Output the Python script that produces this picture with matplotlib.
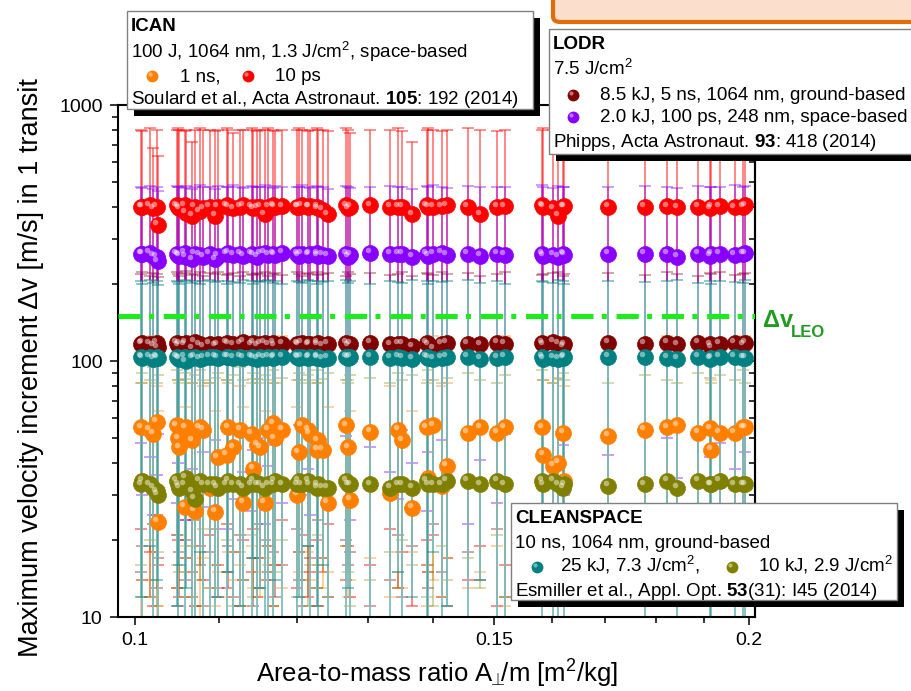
import numpy as np
import matplotlib.pyplot as plt
from matplotlib.patches import Rectangle, FancyBboxPatch
from matplotlib.lines import Line2D
from matplotlib.transforms import offset_copy
from matplotlib.ticker import FixedLocator, NullFormatter, FuncFormatter, LogLocator

plt.rcParams['font.family'] = ['Liberation Sans', 'DejaVu Sans']
plt.rcParams['mathtext.fontset'] = 'custom'
plt.rcParams['mathtext.rm'] = 'Liberation Sans'
plt.rcParams['mathtext.it'] = 'Liberation Sans:italic'
plt.rcParams['mathtext.bf'] = 'Liberation Sans:bold'

# area-to-mass ratio of each debris object [m^2/kg]
obj_x = [0.1007, 0.1008, 0.1017, 0.1021, 0.1025, 0.1026, 0.1048, 0.1050, 0.1051, 0.1058, 0.1059, 0.1067, 0.1070, 0.1076, 0.1080,
         0.1088, 0.1095, 0.1098, 0.1109, 0.1111, 0.1117, 0.1126, 0.1130, 0.1141, 0.1143, 0.1148, 0.1152, 0.1158, 0.1162, 0.1169,
         0.1171, 0.1181, 0.1201, 0.1203, 0.1207, 0.1216, 0.1218, 0.1228, 0.1229, 0.1236, 0.1243, 0.1269, 0.1272, 0.1275, 0.1304,
         0.1334, 0.1346, 0.1352, 0.1367, 0.1390, 0.1392, 0.1400, 0.1414, 0.1422, 0.1456, 0.1476, 0.1505, 0.1518, 0.1583, 0.1585,
         0.1603, 0.1612, 0.1621, 0.1623, 0.1706, 0.1778, 0.1823, 0.1844, 0.1888, 0.1914, 0.1916, 0.1935, 0.1968, 0.1986, 0.1991]

# ICAN 10 ps
red_v = [400, 400, 405, 395, 400, 340, 405, 400, 395, 405, 380, 370, 400, 385, 395,
         400, 370, 400, 405, 400, 395, 400, 405, 400, 395, 398, 400, 375, 400, 405,
         400, 402, 400, 400, 405, 400, 402, 400, 395, 390, 375, 405, 395, 400, 405,
         400, 400, 400, 375, 405, 400, 400, 402, 405, 400, 375, 400, 402, 405, 400,
         395, 370, 400, 402, 400, 400, 402, 398, 400, 395, 400, 402, 398, 400, 405]
red_hi = [800, 790, 810, 680, 800, 630, 800, 810, 800, 790, 800, 715, 800, 810, 800,
          800, 790, 800, 810, 800, 780, 800, 800, 810, 800, 790, 800, 800, 810, 800,
          790, 800, 800, 810, 800, 790, 800, 810, 800, 800, 790, 810, 800, 780, 800,
          800, 810, 790, 720, 800, 810, 800, 790, 800, 810, 800, 790, 800, 800, 810,
          800, 790, 800, 810, 800, 790, 800, 800, 810, 800, 790, 800, 810, 800, 800]
red_lo = [22, 14, 18, 11, 25, 16, 13, 20, 12, 17, 24, 15, 11, 19, 14,
          21, 12, 16, 23, 13, 18, 11, 20, 15, 22, 12, 17, 14, 19, 11,
          16, 24, 13, 18, 21, 12, 15, 20, 11, 17, 23, 14, 19, 12, 16,
          22, 13, 18, 11, 20, 15, 21, 12, 17, 14, 19, 11, 16, 24, 13,
          18, 21, 12, 15, 20, 11, 17, 23, 14, 19, 12, 16, 22, 13, 18]

# LODR space-based 100 ps
pur_v = [262, 262, 265, 258, 255, 245, 262, 260, 258, 265, 255, 250, 262, 260, 255,
         262, 250, 258, 262, 265, 260, 262, 258, 262, 260, 255, 262, 265, 260, 262,
         260, 265, 262, 258, 262, 260, 262, 264, 258, 260, 258, 262, 255, 260, 265,
         262, 262, 262, 255, 262, 258, 262, 265, 260, 262, 258, 262, 260, 262, 258,
         260, 255, 262, 260, 262, 262, 262, 255, 262, 258, 262, 262, 260, 262, 264]
pur_hi = [480, 475, 482, 470, 480, 460, 482, 478, 480, 475, 482, 470, 480, 485, 478,
          480, 470, 482, 480, 478, 485, 480, 475, 482, 480, 478, 480, 485, 480, 475,
          482, 480, 478, 480, 485, 480, 475, 482, 480, 478, 470, 482, 480, 475, 480,
          482, 480, 478, 470, 482, 480, 485, 480, 475, 482, 480, 478, 480, 485, 480,
          475, 482, 480, 478, 480, 482, 480, 475, 482, 480, 478, 480, 485, 480, 482]
pur_lo = [48, 30, 42, 25, 36, 52, 28, 40, 33, 46, 24, 38, 55, 31, 44,
          27, 49, 35, 22, 41, 29, 53, 37, 26, 45, 32, 50, 23, 39, 47,
          34, 28, 43, 56, 30, 38, 25, 48, 35, 42, 27, 51, 33, 24, 46,
          37, 29, 54, 40, 26, 44, 31, 49, 36, 23, 41, 28, 52, 34, 45,
          25, 39, 47, 30, 43, 27, 50, 35, 22, 42, 32, 48, 38, 26, 44]

# LODR ground-based 5 ns
dred_v = [117, 118, 117, 115, 118, 113, 118, 115, 117, 116, 118, 112, 119, 116, 114,
          117, 115, 116, 118, 117, 116, 117, 119, 116, 118, 115, 117, 118, 116, 118,
          115, 117, 117, 116, 118, 116, 117, 116, 118, 115, 117, 118, 115, 117, 118,
          116, 117, 117, 114, 118, 116, 112, 117, 118, 117, 116, 118, 117, 118, 116,
          119, 117, 114, 116, 118, 117, 118, 116, 118, 116, 113, 117, 118, 116, 118]
dred_hi = [218, 222, 215, 220, 218, 212, 222, 218, 215, 220, 224, 216, 218, 222, 215,
           220, 218, 222, 216, 218, 220, 215, 222, 218, 216, 220, 218, 222, 215, 218,
           220, 216, 222, 218, 215, 220, 218, 222, 216, 218, 220, 215, 222, 218, 220,
           216, 218, 222, 215, 220, 218, 216, 222, 218, 220, 215, 218, 222, 216, 218,
           220, 222, 215, 218, 220, 216, 222, 218, 215, 220, 218, 222, 216, 218, 220]
dred_lo = [15, 19, 12, 23, 13, 17, 21, 11, 18, 14, 20, 12, 24, 16, 11,
           18, 22, 13, 15, 19, 12, 21, 14, 17, 11, 23, 13, 20, 15, 18,
           12, 16, 22, 14, 11, 19, 17, 13, 24, 15, 12, 20, 16, 18, 11,
           14, 21, 12, 19, 16, 13, 23, 15, 11, 18, 14, 22, 12, 17, 20,
           13, 15, 19, 11, 24, 16, 12, 18, 21, 14, 17, 11, 15, 20, 13]

# CLEANSPACE 25 kJ
teal_v = [104, 103, 104, 102, 104, 103, 104, 103, 102, 104, 100, 103, 104, 102, 103,
          104, 104, 103, 104, 104, 103, 104, 103, 104, 103, 102, 104, 103, 104, 103,
          104, 104, 104, 103, 104, 103, 104, 103, 104, 102, 103, 104, 103, 104, 104,
          103, 104, 103, 102, 104, 103, 102, 103, 104, 104, 102, 103, 104, 104, 102,
          103, 102, 103, 104, 104, 104, 103, 102, 104, 102, 103, 104, 104, 103, 103]
teal_hi = [205, 200, 208, 202, 205, 198, 206, 203, 200, 208, 205, 202, 206, 200, 205,
           208, 203, 205, 200, 206, 204, 202, 208, 205, 200, 206, 203, 205, 208, 202,
           205, 200, 206, 204, 202, 208, 205, 200, 206, 203, 205, 208, 202, 205, 200,
           206, 204, 202, 208, 205, 200, 206, 203, 205, 208, 202, 205, 200, 206, 204,
           202, 208, 205, 200, 206, 203, 205, 208, 202, 205, 200, 206, 204, 202, 208]
teal_lo = [12, 8, 19, 9, 14, 8, 11, 9, 16, 8, 13, 9, 8, 18, 10,
           9, 8, 12, 9, 15, 8, 11, 9, 8, 17, 9, 13, 8, 10, 9,
           14, 8, 9, 12, 8, 19, 9, 11, 8, 16, 9, 8, 13, 9, 10,
           8, 15, 9, 12, 8, 9, 18, 8, 11, 9, 14, 8, 10, 9, 13,
           8, 9, 16, 8, 12, 9, 11, 8, 15, 9, 8, 13, 9, 10, 8]

# ICAN 1 ns
org_v = [55, 34, 54, 52, 58, 23.6, 56, 50, 46, 27, 55, 49, 26, 55, 54,
         32, 25.8, 42, 43, 55, 46, 54, 28, 52, 38, 47, 46, 28, 54, 57,
         50, 54, 30, 44, 56, 54, 52, 45, 49, 45, 28, 56, 46, 28.7, 53,
         30.6, 54, 49, 26.7, 55, 35, 56, 32.5, 39, 52.5, 55, 52.5, 55, 55, 43,
         39, 40, 52.5, 34, 51, 54, 55, 56, 52.5, 54.5, 45, 52.5, 52.5, 55, 55]
org_hi = [120, 82, 118, 125, 80, 64, 122, 84, 118, 66, 120, 82, 125, 118, 80,
          82, 64, 120, 84, 122, 118, 80, 66, 120, 85, 118, 122, 64, 120, 82,
          118, 125, 66, 84, 120, 118, 122, 82, 120, 118, 66, 122, 84, 64, 120,
          80, 118, 122, 64, 120, 84, 125, 80, 82, 120, 122, 118, 125, 120, 84,
          82, 85, 122, 80, 118, 120, 125, 118, 122, 120, 84, 118, 122, 120, 125]
org_lo = [9, 14, 12, 18, 8, 11, 16, 8, 13, 15, 19, 12, 9, 8, 17,
          13, 11, 15, 12, 18, 14, 16, 11, 19, 13, 15, 12, 17, 14, 11,
          16, 13, 8, 15, 12, 18, 14, 11, 16, 13, 15, 19, 12, 14, 17,
          12, 15, 13, 18, 11, 16, 14, 12, 17, 13, 15, 19, 11, 14, 16,
          13, 18, 12, 15, 14, 11, 17, 13, 16, 12, 15, 18, 14, 11, 13]

# CLEANSPACE 10 kJ
olv_v = [33, 34, 33, 32, 31, 30, 34, 33, 32, 33, 35, 31, 29, 34, 33,
         33, 33, 32, 33, 34, 33, 33, 32, 33, 34, 33, 33, 32, 33, 33,
         34, 33, 33, 34, 33, 34, 33, 32, 33, 32, 32, 34, 33, 33, 33,
         32, 33, 33, 32, 34, 33, 33, 33, 34, 34, 33, 34, 33, 34, 33,
         34, 33, 32, 33, 32.6, 33, 34, 32, 34, 33, 33, 34, 33, 33, 33]
olv_hi = [82, 90, 84, 95, 82, 88, 92, 84, 82, 90, 85, 82, 88, 92, 84,
          82, 86, 90, 84, 82, 88, 95, 84, 82, 90, 85, 82, 88, 84, 92,
          82, 86, 84, 90, 82, 88, 84, 92, 82, 85, 90, 84, 82, 88, 86,
          82, 90, 84, 88, 82, 92, 84, 82, 86, 90, 84, 82, 88, 92, 84,
          82, 86, 90, 84, 82, 88, 84, 82, 90, 86, 82, 88, 84, 92, 82]
olv_lo = [16, 12, 20, 14, 11, 18, 13, 21, 15, 12, 17, 19, 11, 14, 22,
          13, 16, 12, 20, 15, 11, 18, 14, 21, 12, 17, 13, 19, 16, 11,
          15, 20, 12, 18, 14, 11, 16, 13, 21, 17, 12, 19, 15, 11, 14,
          18, 13, 20, 16, 12, 15, 11, 19, 14, 17, 13, 21, 12, 16, 18,
          11, 15, 20, 13, 17, 12, 19, 14, 11, 16, 18, 13, 21, 15, 12]

dv_leo = 150

C_RED, C_ORG = '#ff0000', '#ff8000'
C_DRED, C_PUR = '#800000', '#8800ff'
C_TEAL, C_OLV = '#008080', '#808000'

W, H = 911, 691
fig = plt.figure(figsize=(W / 100, H / 100), dpi=100)
fig.patch.set_facecolor('white')
ax = fig.add_axes([118 / W, 1 - 617 / H, (755 - 118) / W, (617 - 105) / H])

x = np.array(obj_x)
series = [
    (red_v, red_lo, red_hi, C_RED, 0.55),
    (dred_v, dred_lo, dred_hi, C_DRED, 0.45),
    (pur_v, pur_lo, pur_hi, C_PUR, 0.5),
    (org_v, org_lo, org_hi, C_ORG, 0.45),
    (olv_v, olv_lo, olv_hi, C_OLV, 0.4),
]
for v, lo, hi, c, a in series:
    v, lo, hi = np.array(v, float), np.array(lo, float), np.array(hi, float)
    ax.errorbar(x, v, yerr=[v - lo, hi - v], fmt='none', ecolor=c, alpha=a,
                elinewidth=1.2, capsize=4, capthick=1.1, zorder=2)

# teal bars sit on top of the others, so blank the lines underneath first
ax.vlines(x, teal_lo, teal_hi, color='white', lw=1.2, zorder=2)
tv = np.array(teal_v, float)
ax.errorbar(x, tv, yerr=[tv - np.array(teal_lo), np.array(teal_hi) - tv], fmt='none',
            ecolor=C_TEAL, alpha=0.55, elinewidth=1.2, capsize=4, capthick=1.1, zorder=2)

hl = offset_copy(ax.transData, fig=fig, x=-2.5, y=2.5, units='dots')
for v, c in [(red_v, C_RED), (pur_v, C_PUR), (dred_v, C_DRED), (teal_v, C_TEAL),
             (org_v, C_ORG), (olv_v, C_OLV)]:
    ax.plot(x, v, 'o', ms=11.5, color=c, mec=c, mew=0.5, zorder=4)
    ax.plot(x, v, 'o', ms=4, color='white', alpha=0.45, mew=0, zorder=4, transform=hl)

lw_leo = 3.6
ax.axhline(dv_leo, color='#19ee19', lw=lw_leo,
           dashes=[16 / lw_leo, 6 / lw_leo, 3.6 / lw_leo, 7 / lw_leo], zorder=5)

ax.set_xscale('log')
ax.set_yscale('log')
ax.set_xlim(0.0981, 0.2013)
ax.set_ylim(10, 1000)
ax.xaxis.set_major_locator(FixedLocator([0.1, 0.15, 0.2]))
ax.xaxis.set_major_formatter(FuncFormatter(lambda v, p: f'{v:g}'))
ax.xaxis.set_minor_locator(FixedLocator([0.11, 0.12, 0.13, 0.14, 0.16, 0.17, 0.18, 0.19]))
ax.xaxis.set_minor_formatter(NullFormatter())
ax.yaxis.set_major_locator(FixedLocator([10, 100, 1000]))
ax.yaxis.set_major_formatter(FuncFormatter(lambda v, p: f'{v:g}'))
ax.yaxis.set_minor_locator(LogLocator(base=10, subs=np.arange(2, 10)))
ax.yaxis.set_minor_formatter(NullFormatter())
ax.tick_params(which='both', direction='out', width=1.1, labelsize=14, top=False, right=False)
ax.tick_params(which='major', length=6, pad=5)
ax.tick_params(which='minor', length=4)
for s in ax.spines.values():
    s.set_linewidth(1.5)

sec = ax.secondary_yaxis('right')
sec.yaxis.set_major_locator(FixedLocator([10, 100, 1000]))
sec.yaxis.set_minor_locator(LogLocator(base=10, subs=np.arange(2, 10)))
sec.yaxis.set_major_formatter(NullFormatter())
sec.yaxis.set_minor_formatter(NullFormatter())
sec.tick_params(which='both', direction='in', width=1.1)
sec.tick_params(which='major', length=6)
sec.tick_params(which='minor', length=4)
for s in sec.spines.values():
    s.set_linewidth(1.5)

fig.text(31 / W, 1 - 368 / H, 'Maximum velocity increment Δv [m/s] in 1 transit',
         rotation=90, ha='center', va='center', fontsize=19.5)
fig.text(437 / W, 1 - 674 / H, r'Area-to-mass ratio A$_{\!\!\bot}\!\!$/m [m$^2$/kg]',
         ha='center', va='center', fontsize=18.5)

fig.text(763 / W, 1 - 327 / H, 'Δv', fontsize=17, fontweight='bold', color='#1f9c1f')
fig.text(791 / W, 1 - 337 / H, 'LEO', fontsize=12, fontweight='bold', color='#1f9c1f')


def fxy(px, py):
    return px / W, 1 - py / H


def panel(x0, y0, x1, y1, sh=7):
    fig.add_artist(Rectangle(fxy(x0 + sh, y1 + sh), (x1 - x0) / W, (y1 - y0) / H,
                             transform=fig.transFigure, facecolor='black', edgecolor='none', zorder=10))
    fig.add_artist(Rectangle(fxy(x0, y1), (x1 - x0) / W, (y1 - y0) / H,
                             transform=fig.transFigure, facecolor='white', edgecolor='#808080',
                             lw=1, zorder=11))


def txt(px, py, s, **kw):
    fig.text(*fxy(px, py), s, fontsize=13.5, va='baseline', ha='left', zorder=12, **kw)


def dot(px, py, c):
    fig.add_artist(Line2D([px / W], [1 - py / H], marker='o', ms=8.5, color=c, mew=0,
                          transform=fig.transFigure, zorder=12))
    fig.add_artist(Line2D([(px - 2) / W], [1 - (py - 2) / H], marker='o', ms=3, color='white',
                          alpha=0.45, mew=0, transform=fig.transFigure, zorder=12))


# orange box cut off at the top right
fig.add_artist(FancyBboxPatch(fxy(553, 22), 400 / W, 40 / H, boxstyle='round,pad=0,rounding_size=0.008',
                              transform=fig.transFigure, facecolor='#fbdecb', edgecolor='#e36c0a',
                              lw=3, zorder=9))

panel(127, 11, 533, 109)
txt(131, 31, 'ICAN', fontweight='bold')
txt(131, 58, r'100 J, 1064 nm, 1.3 J/cm$^2$, space-based')
dot(152, 76, C_ORG)
txt(180, 81, '1 ns,')
dot(248, 76, C_RED)
txt(275, 81, '10 ps')
txt(131, 104, r'Soulard et al., Acta Astronaut. $\mathbf{105}$: 192 (2014)')

panel(549, 29, 925, 154)
txt(553, 49, 'LODR', fontweight='bold')
txt(553, 75, r'7.5 J/cm$^2$')
dot(573, 95, C_DRED)
txt(600, 100, '8.5 kJ, 5 ns, 1064 nm, ground-based')
dot(573, 117, C_PUR)
txt(600, 122, '2.0 kJ, 100 ps, 248 nm, space-based')
txt(553, 147, r'Phipps, Acta Astronaut. $\mathbf{93}$: 418 (2014)')

panel(511, 503, 897, 600)
txt(515, 523, 'CLEANSPACE', fontweight='bold')
txt(515, 548, '10 ns, 1064 nm, ground-based')
dot(537, 567, C_TEAL)
txt(560, 572, r'25 kJ, 7.3 J/cm$^2$,')
dot(732, 567, C_OLV)
txt(758, 572, r'10 kJ, 2.9 J/cm$^2$')
txt(515, 596, r'Esmiller et al., Appl. Opt. $\mathbf{53}$(31): I45 (2014)')

fig.savefig('out.png', dpi=100)
